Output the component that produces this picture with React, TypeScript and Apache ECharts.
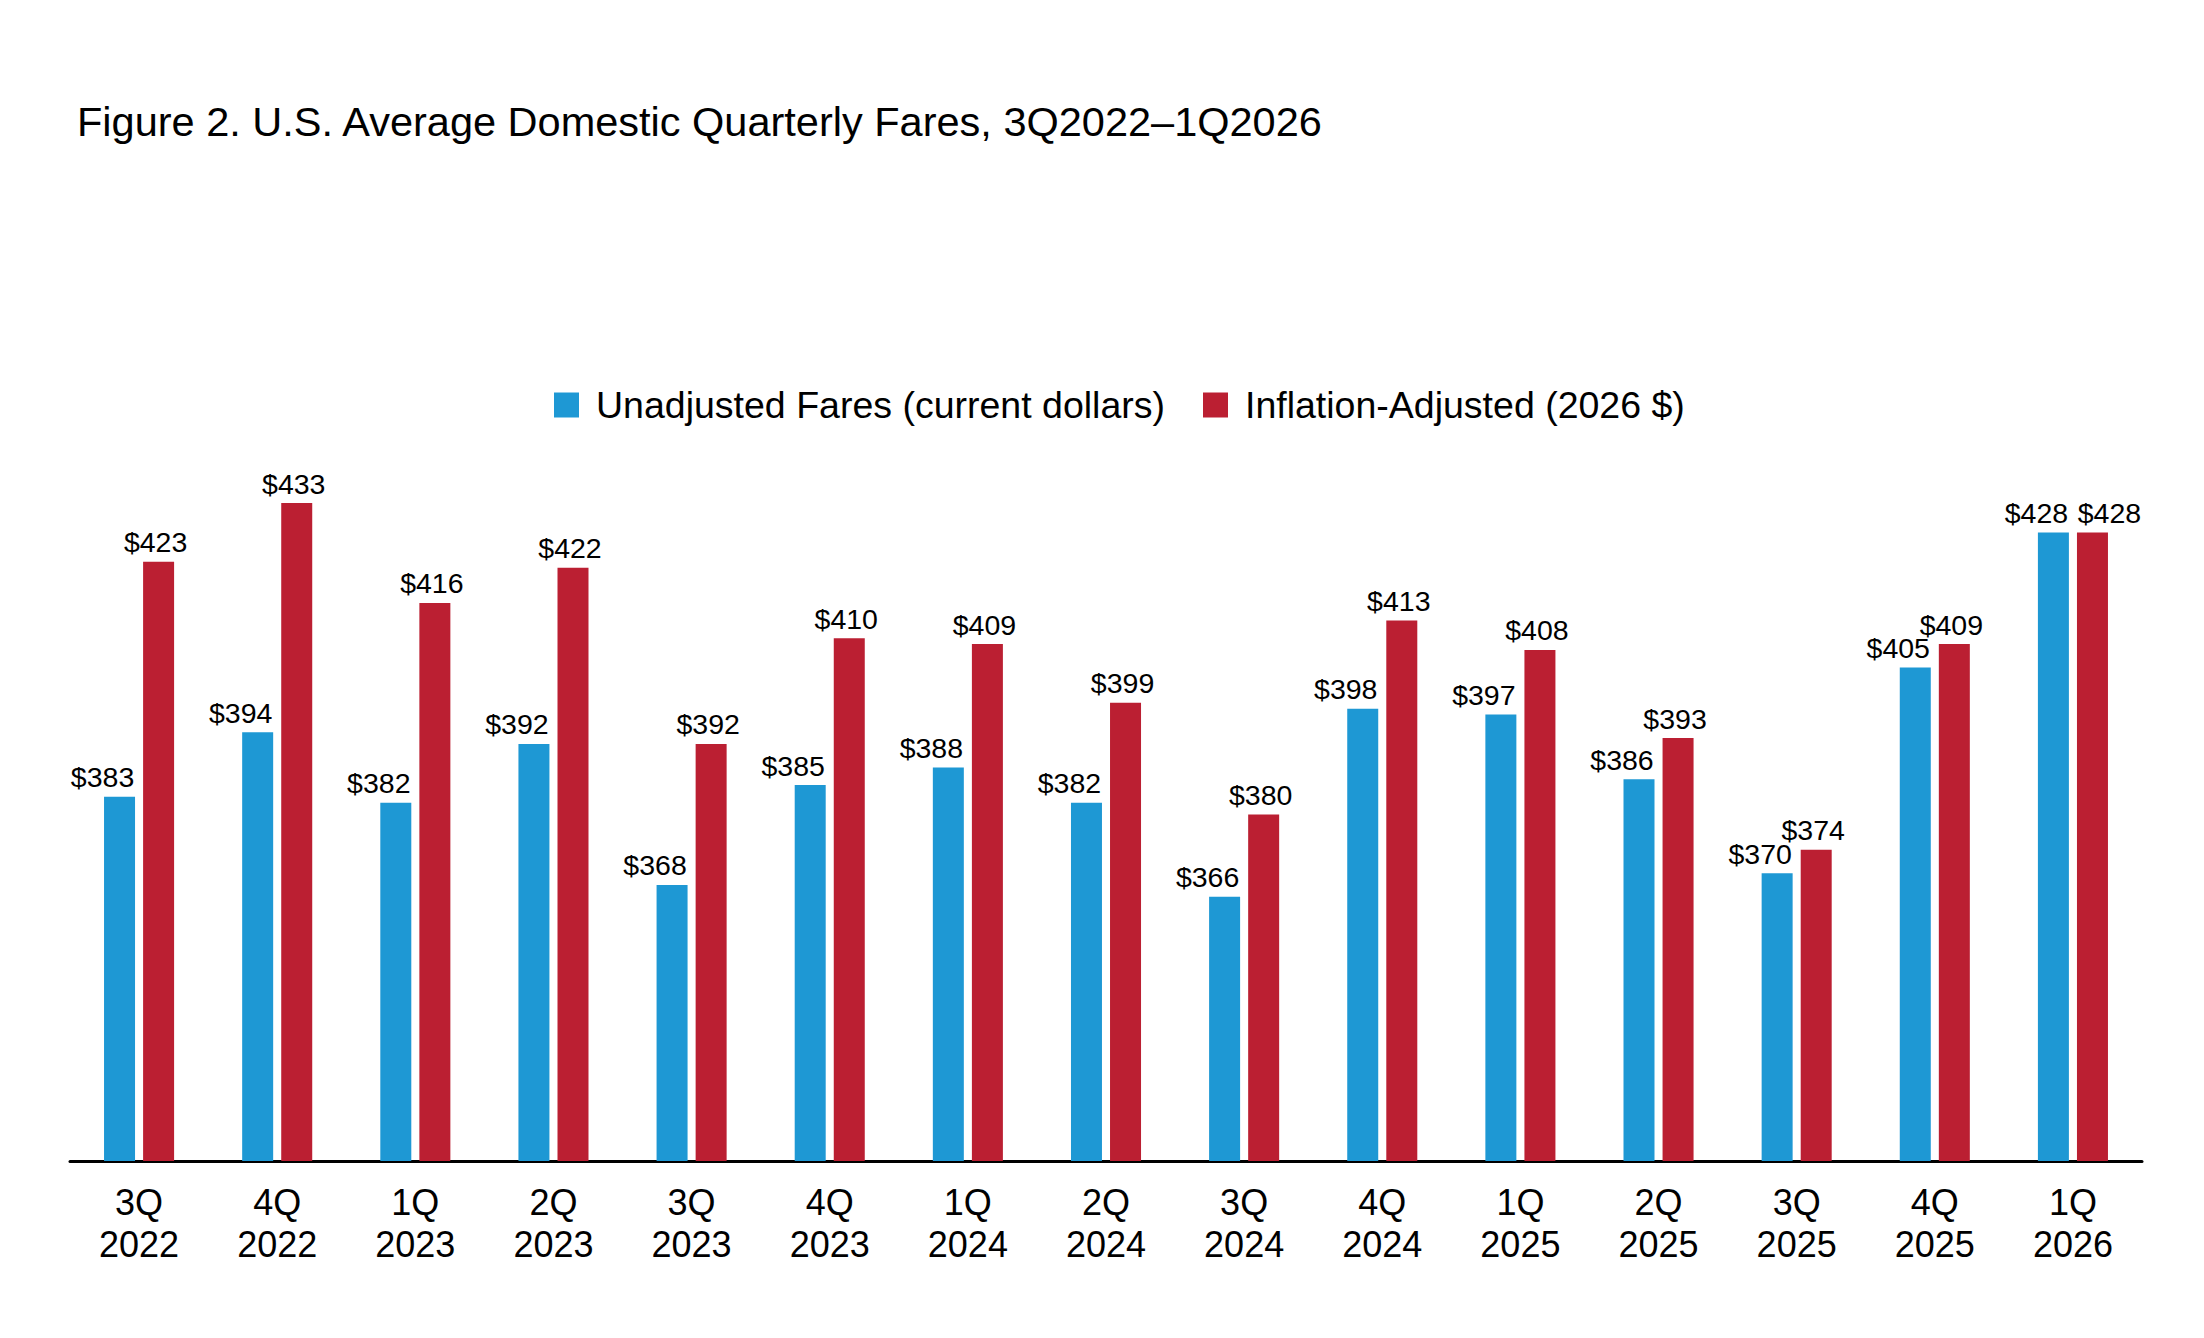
import React, { useEffect, useRef } from "react";
import * as echarts from "echarts";

const categories = [
  "3Q\n2022", "4Q\n2022", "1Q\n2023", "2Q\n2023", "3Q\n2023",
  "4Q\n2023", "1Q\n2024", "2Q\n2024", "3Q\n2024", "4Q\n2024",
  "1Q\n2025", "2Q\n2025", "3Q\n2025", "4Q\n2025", "1Q\n2026",
];
const unadjusted = [383, 394, 382, 392, 368, 385, 388, 382, 366, 398, 397, 386, 370, 405, 428];
const inflationAdjusted = [423, 433, 416, 422, 392, 410, 409, 399, 380, 413, 408, 393, 374, 409, 428];
const seriesNames = ["Unadjusted Fares (current dollars)", "Inflation-Adjusted (2026 $)"];
const titleText = "Figure 2. U.S. Average Domestic Quarterly Fares, 3Q2022\u20131Q2026";

const FONT = "'Liberation Sans', Arial, Helvetica, sans-serif";
const BLUE = "#1e98d4";
const RED = "#bb1f32";

export default function App() {
  const ref = useRef<HTMLDivElement>(null);
  useEffect(() => {
    if (!ref.current) return;
    const chart = echarts.init(ref.current, null, { renderer: "svg" });
    const labelBase = {
      show: true,
      position: "top",
      distance: 5,
      fontFamily: FONT,
      fontSize: 28.5,
      color: "#000",
      formatter: (p: any) => "$" + p.value,
    };
    const last = categories.length - 1;
    chart.setOption({
      animation: false,
      backgroundColor: "#fff",
      textStyle: { fontFamily: FONT },
      title: {
        text: titleText,
        left: 77,
        top: 100,
        padding: 0,
        textStyle: { fontFamily: FONT, fontSize: 41.5, fontWeight: "normal", color: "#000" },
      },
      legend: {
        left: 554,
        top: 386,
        padding: 0,
        icon: "rect",
        itemWidth: 25,
        itemHeight: 25,
        itemGap: 38,
        textStyle: { fontFamily: FONT, fontSize: 37.5, color: "#000", padding: [0, 0, 0, 12] },
        data: seriesNames,
      },
      grid: { left: 70, right: 2204 - 2142, top: 462, bottom: 1338 - 1161, containLabel: false },
      xAxis: {
        type: "category",
        data: categories,
        axisLine: { show: true, lineStyle: { color: "#000", width: 3 } },
        axisTick: { show: false },
        axisLabel: {
          fontFamily: FONT,
          fontSize: 36,
          lineHeight: 42,
          color: "#000",
          margin: 20,
          interval: 0,
        },
      },
      yAxis: {
        type: "value",
        min: 321,
        max: 440,
        show: false,
        splitLine: { show: false },
      },
      series: [
        {
          name: seriesNames[0],
          type: "bar",
          barWidth: 31,
          barGap: "26%",
          itemStyle: { color: BLUE },
          label: { ...labelBase, offset: [-17, 0] },
          data: unadjusted,
        },
        {
          name: seriesNames[1],
          type: "bar",
          barWidth: 31,
          barGap: "26%",
          itemStyle: { color: RED },
          label: { ...labelBase, offset: [-3, 0] },
          data: inflationAdjusted.map((v, i) =>
            i === last ? { value: v, label: { offset: [17, 0] } } : v
          ),
        },
      ],
    });
    return () => chart.dispose();
  }, []);
  return (
    <div
      ref={ref}
      style={{ position: "fixed", left: 0, top: 0, width: 2204, height: 1338 }}
    />
  );
}
